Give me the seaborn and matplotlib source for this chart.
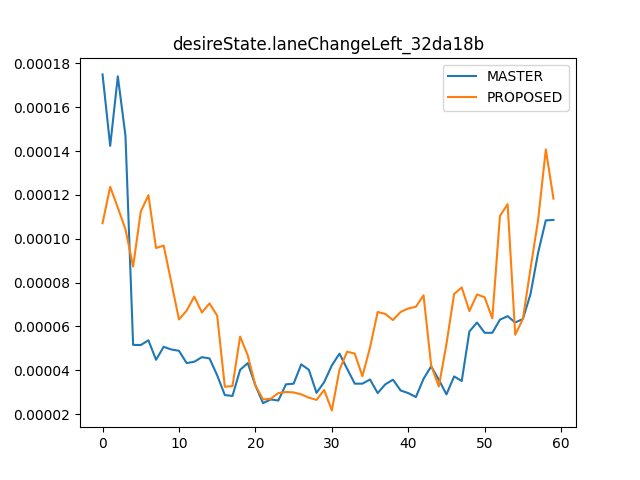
import numpy as np
import pandas as pd
import seaborn as sns
import matplotlib
matplotlib.use("Agg")
import matplotlib.pyplot as plt

# values, in units of 1e-5
master = [17.50, 14.24, 17.41, 14.70, 5.16, 5.15, 5.37, 4.48, 5.07, 4.95,
          4.89, 4.33, 4.39, 4.60, 4.54, 3.77, 2.87, 2.83, 4.02, 4.33,
          3.31, 2.50, 2.67, 2.62, 3.36, 3.39, 4.27, 4.02, 2.97, 3.46,
          4.22, 4.76, 4.07, 3.39, 3.39, 3.58, 2.96, 3.36, 3.57, 3.08,
          2.96, 2.78, 3.61, 4.18, 3.57, 2.90, 3.72, 3.51, 5.77, 6.18,
          5.71, 5.71, 6.31, 6.47, 6.18, 6.34, 7.48, 9.38, 10.84, 10.86]
proposed = [10.71, 12.37, 11.42, 10.43, 8.73, 11.24, 11.99, 9.58, 9.69, 8.01,
            6.32, 6.72, 7.36, 6.64, 7.05, 6.49, 3.25, 3.28, 5.54, 4.68,
            3.31, 2.67, 2.70, 2.96, 3.01, 2.99, 2.90, 2.75, 2.65, 3.10,
            2.17, 4.02, 4.85, 4.76, 3.73, 5.04, 6.66, 6.57, 6.29, 6.66,
            6.82, 6.90, 7.42, 4.22, 3.26, 5.20, 7.48, 7.78, 6.70, 7.46,
            7.33, 6.37, 11.04, 11.58, 5.62, 6.34, 8.64, 10.88, 14.08, 11.83]

steps = np.arange(len(master))
df = pd.DataFrame({
    "step": np.concatenate([steps, steps]),
    "value": np.array(master + proposed) * 1e-5,
    "run": ["MASTER"] * len(master) + ["PROPOSED"] * len(proposed),
})

fig, ax = plt.subplots(figsize=(6.4, 4.8), dpi=100)
sns.lineplot(data=df, x="step", y="value", hue="run",
             palette=["#1f77b4", "#ff7f0e"], ax=ax)
ax.set_title("desireState.laneChangeLeft_32da18b")
ax.set_xlabel("")
ax.set_ylabel("")
ax.legend(loc="upper right")
fig.savefig("out.png")
